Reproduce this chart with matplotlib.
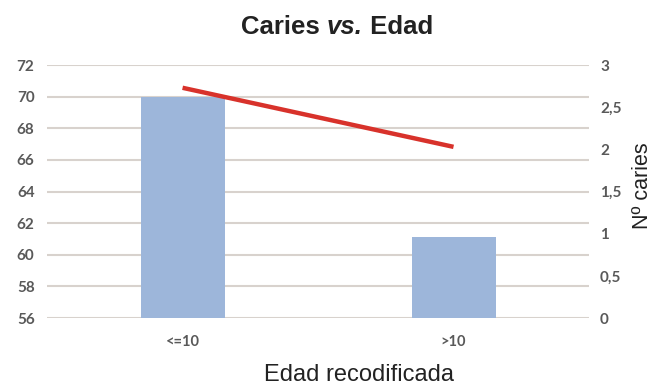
import matplotlib.pyplot as plt
from matplotlib.ticker import FixedLocator, FuncFormatter

# datos
grupos = ["<=10", ">10"]
edad_media = [70.0, 61.1]      # barras, eje izquierdo
caries_media = [2.73, 2.03]    # línea, eje derecho

izq_ticks = [56, 58, 60, 62, 64, 66, 68, 70, 72]
der_ticks = [0, 0.5, 1, 1.5, 2, 2.5, 3]

fig = plt.figure(figsize=(6.54, 3.87), dpi=100)
ax = fig.add_axes([0.072, 0.178, 0.8286, 0.654])

x = range(len(grupos))
ax.bar(x, [v - 56 for v in edad_media], bottom=56, width=0.31, color="#9db6da", zorder=2)
ax.set_xlim(-0.5, 1.5)
ax.set_ylim(56, 72)
ax.yaxis.set_major_locator(FixedLocator(izq_ticks))
ax.grid(axis="y", color="#d8d2cd", linewidth=1.5, zorder=0)
ax.set_xticks(list(x))
ax.set_xticklabels(grupos)

ax2 = ax.twinx()
ax2.plot(x, caries_media, color="#d8322b", linewidth=3.2, solid_capstyle="butt")
ax2.set_ylim(0, 3)
ax2.yaxis.set_major_locator(FixedLocator(der_ticks))
ax2.yaxis.set_major_formatter(FuncFormatter(lambda v, p: ("%g" % v).replace(".", ",")))

for a in (ax, ax2):
    for s in a.spines.values():
        s.set_visible(False)
    a.tick_params(length=0, labelsize=11, labelcolor="#595959")
    for t in a.get_yticklabels() + a.get_xticklabels():
        t.set_family("Lato")
        t.set_fontweight("bold")
ax.tick_params(axis="y", pad=9)
ax.tick_params(axis="x", pad=12)
ax2.tick_params(axis="y", pad=8)
ax.tick_params(axis="x", labelsize=10.5)

# títulos de ejes
fig.text(0.549, 0.003, "Edad recodificada", ha="center", va="bottom",
         fontsize=17, family="Liberation Sans", color="#222222")
fig.text(0.999, 0.52, "Nº caries", ha="right", va="center", rotation=90,
         fontsize=15.5, family="Liberation Sans", color="#222222")

# título con "vs." en cursiva
partes = [("Caries ", "normal"), ("vs.", "italic"), (" Edad", "normal")]
fig.canvas.draw()
r = fig.canvas.get_renderer()
textos = []
ancho = 0
for txt, estilo in partes:
    t = fig.text(0, 0.912, txt, fontsize=18.5, fontweight="bold", style=estilo,
                 family="Liberation Sans", color="#222222", va="baseline")
    w = t.get_window_extent(r).width
    textos.append((t, w))
    ancho += w
x0 = 0.515 * fig.bbox.width - ancho / 2
for t, w in textos:
    t.set_x(x0 / fig.bbox.width)
    x0 += w

fig.savefig("out.png", dpi=100)
